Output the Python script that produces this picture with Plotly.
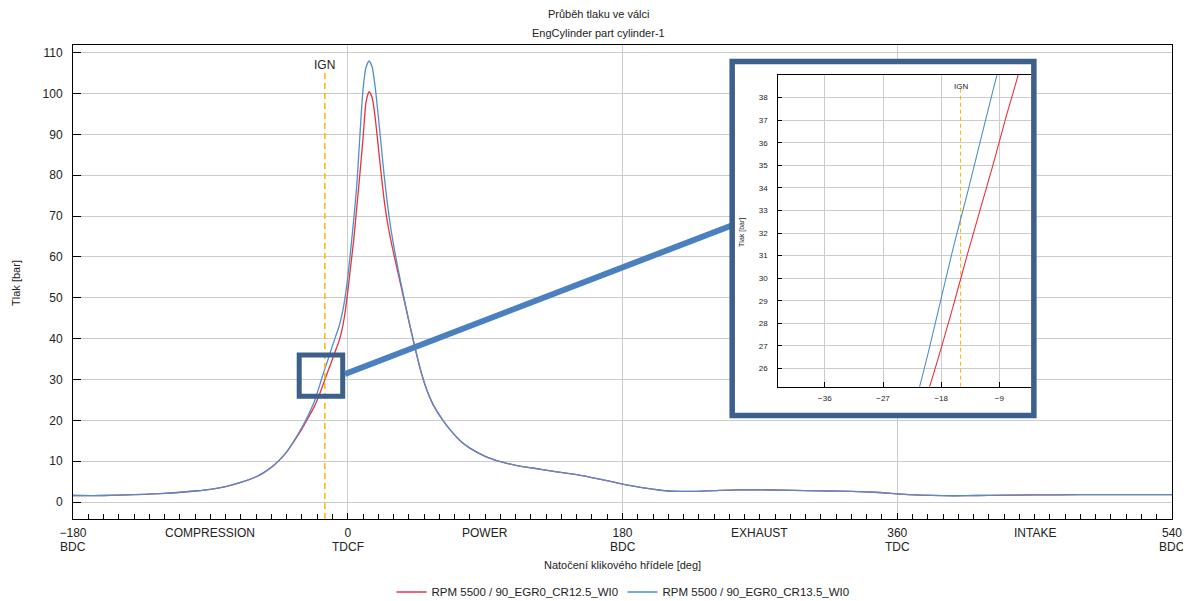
import plotly.graph_objects as go

# ---------------- data ----------------
crank_angle = [
    -180, -160, -140, -120, -100, -90, -80, -70, -60, -55, -50, -45, -40, -35, -30,
    -26, -22, -20, -18, -16, -14, -12, -10, -8, -6, -4, -2, 0,
    2, 4, 6, 8, 10, 12, 14, 16, 18, 20, 22, 24, 26, 28, 30, 33, 36, 40,
    44, 48, 52, 56, 62, 68, 74, 80, 90, 100, 110, 120, 135, 150, 165, 180,
    195, 210, 225, 240, 255, 270, 285, 300, 315, 330, 345, 360, 375, 390, 405, 420, 450, 480, 510, 540,
]
p_cr125 = [
    1.6, 1.6, 1.8, 2.1, 2.7, 3.1, 3.8, 4.8, 6.2, 7.2, 8.5, 10.2, 12.3, 15.0, 17.9,
    20.6, 23.3, 25.0, 26.9, 28.9, 31.0, 33.0, 35.0, 37.1, 39.1, 41.8, 45.8, 51.5,
    58.0, 64.5, 72.5, 80.5, 89.0, 98.0, 100.5, 99.0, 94.0, 87.0, 80.0, 73.5, 68.5, 64.5, 61.0, 56.0, 51.0, 44.3,
    37.8, 31.8, 27.2, 23.8, 20.2, 17.3, 14.9, 13.2, 11.2, 9.9, 9.0, 8.4, 7.5, 6.7, 5.6, 4.4,
    3.4, 2.7, 2.6, 2.8, 3.0, 3.0, 2.9, 2.8, 2.7, 2.6, 2.4, 2.0, 1.7, 1.55, 1.55, 1.65, 1.75, 1.8, 1.8, 1.8,
]
p_cr135 = [
    1.6, 1.6, 1.8, 2.1, 2.7, 3.1, 3.8, 4.8, 6.2, 7.2, 8.5, 10.2, 12.3, 15.1, 18.3,
    21.2, 24.5, 26.7, 29.1, 31.5, 33.7, 36.0, 38.3, 40.5, 42.6, 45.5, 49.5, 55.0,
    62.0, 69.5, 78.0, 90.0, 101.0, 106.5, 108.0, 106.5, 101.5, 94.5, 87.0, 79.5, 73.0, 67.5, 63.0, 57.0, 51.5, 44.5,
    38.0, 32.0, 27.3, 23.8, 20.2, 17.3, 14.9, 13.2, 11.2, 9.9, 9.0, 8.4, 7.5, 6.7, 5.6, 4.4,
    3.4, 2.7, 2.6, 2.8, 3.0, 3.0, 2.9, 2.8, 2.7, 2.6, 2.4, 2.0, 1.7, 1.55, 1.55, 1.65, 1.75, 1.8, 1.8, 1.8,
]
series_names = ["RPM 5500 / 90_EGR0_CR12.5_WI0", "RPM 5500 / 90_EGR0_CR13.5_WI0"]

x_tick_vals = [-180, 0, 180, 360, 540]
x_tick_text = ["\u2212180", "0", "180", "360", "540"]
x_tick_sub = ["BDC", "TDCF", "BDC", "TDC", "BDC"]
phase_pos = [-90, 90, 270, 450]
phase_names = ["COMPRESSION", "POWER", "EXHAUST", "INTAKE"]
y_tick_vals = list(range(0, 111, 10))

inset_x_ticks = [-36, -27, -18, -9]
inset_y_ticks = list(range(26, 39))
IGN_ANGLE = -15

assert len(crank_angle) == len(p_cr125) == len(p_cr135)

# ---------------- style ----------------
FONT = "Liberation Sans, Arial, sans-serif"
TXT = "#222222"
RED = "#e8323c"
BLUE = "#4f8fcf"
GRID = "#cccccc"
FRAME = "#3d5f8c"
CONNECT = "#4a7fc0"
IGN_COL = "#ffb400"

fig = go.Figure()

for vals, col, name in [(p_cr125, RED, series_names[0]), (p_cr135, BLUE, series_names[1])]:
    fig.add_trace(go.Scatter(x=crank_angle, y=vals, mode="lines", name=name,
                             line=dict(color=col, width=1.3, shape="spline", smoothing=0.6),
                             xaxis="x", yaxis="y"))

# cover subplot (white background behind the inset frame)
fig.add_trace(go.Scatter(x=[0], y=[0], mode="markers", marker=dict(opacity=0),
                         showlegend=False, hoverinfo="skip", xaxis="x2", yaxis="y2"))

for vals, col in [(p_cr125, RED), (p_cr135, BLUE)]:
    fig.add_trace(go.Scatter(x=crank_angle, y=vals, mode="lines", showlegend=False,
                             line=dict(color=col, width=1.1, shape="spline", smoothing=0.6),
                             xaxis="x3", yaxis="y3"))

fig.update_layout(
    width=1183, height=593,
    margin=dict(l=65, r=19, t=37, b=82, autoexpand=False),
    paper_bgcolor="white", plot_bgcolor="white",
    font=dict(family=FONT, size=12, color=TXT),
    showlegend=True,
    legend=dict(orientation="h", x=0.500, xanchor="center", y=-0.154, yanchor="middle",
                font=dict(size=11.5, color=TXT), itemwidth=30, entrywidth=186,
                entrywidthmode="pixels", tracegroupgap=0, bgcolor="rgba(0,0,0,0)"),
    xaxis=dict(domain=[0, 1], range=[-180, 540], tickmode="array", tickvals=x_tick_vals,
               ticktext=x_tick_text, ticks="inside", ticklen=6, tickcolor="black",
               showline=True, linecolor="black", linewidth=1, mirror=True,
               showgrid=True, gridcolor=GRID, gridwidth=1, zeroline=False, automargin=False,
               tickfont=dict(size=12, color=TXT), ticklabelstandoff=3,
               minor=dict(tickmode="linear", tick0=-180, dtick=10, ticks="inside",
                          ticklen=5, tickcolor="black", showgrid=False)),
    yaxis=dict(domain=[0, 1], range=[-4.15, 111.9], tickmode="array", tickvals=y_tick_vals,
               ticks="inside", ticklen=8, tickcolor="black",
               showline=True, linecolor="black", linewidth=1, mirror=True,
               showgrid=True, gridcolor=GRID, gridwidth=1, zeroline=False, automargin=False,
               tickfont=dict(size=12, color=TXT), ticklabelstandoff=7),
    xaxis2=dict(domain=[0.5998, 0.8743], range=[0, 1], visible=False, anchor="y2"),
    yaxis2=dict(domain=[0.2184, 0.9652], range=[0, 1], visible=False, anchor="x2"),
    xaxis3=dict(domain=[0.6418, 0.8717], range=[-43.2, -4.1], anchor="y3",
                tickmode="array", tickvals=inset_x_ticks, ticks="inside", ticklen=5,
                tickcolor="black", showline=True, linecolor="black", linewidth=1, mirror=True,
                showgrid=True, gridcolor=GRID, zeroline=False, automargin=False,
                tickfont=dict(size=8, color=TXT), ticklabelstandoff=4),
    yaxis3=dict(domain=[0.2791, 0.9367], range=[25.19, 39.0], anchor="x3",
                tickmode="array", tickvals=inset_y_ticks, ticks="inside", ticklen=4,
                tickcolor="black", showline=True, linecolor="black", linewidth=1,
                showgrid=True, gridcolor=GRID, zeroline=False, automargin=False,
                tickfont=dict(size=8, color=TXT), ticklabelstandoff=8),
)

shapes = [
    dict(type="line", xref="x", yref="y", x0=IGN_ANGLE, x1=IGN_ANGLE, y0=-4.15, y1=105.3,
         line=dict(color=IGN_COL, width=1.5, dash="6px,4px"), layer="above"),
    dict(type="line", xref="x3", yref="y3", x0=IGN_ANGLE, x1=IGN_ANGLE, y0=25.19, y1=38.4,
         line=dict(color=IGN_COL, width=1, dash="4px,3px"), layer="between"),
    dict(type="rect", xref="x", yref="y", x0=-31.8, x1=-3.3, y0=25.9, y1=36.0,
         line=dict(color=FRAME, width=5), layer="above"),
    dict(type="line", xref="paper", yref="paper", x0=0.2475, y0=0.3059, x1=0.6005, y1=0.6203,
         line=dict(color=CONNECT, width=6), layer="above"),
    dict(type="rect", xref="paper", yref="paper", x0=0.5998, x1=0.8743, y0=0.2184, y1=0.9652,
         line=dict(color=FRAME, width=5.5), layer="above"),
]
fig.update_layout(shapes=shapes)

ann = [
    dict(text="Průběh tlaku ve válci", xref="paper", yref="paper", x=0.4786, y=1.0654,
         showarrow=False, font=dict(size=11, color=TXT), xanchor="center", yanchor="middle"),
    dict(text="EngCylinder part cylinder-1", xref="paper", yref="paper", x=0.4786, y=1.0253,
         showarrow=False, font=dict(size=11, color=TXT), xanchor="center", yanchor="middle"),
    dict(text="Tlak [bar]", xref="paper", yref="paper", x=-0.0519, y=0.498, textangle=-90,
         showarrow=False, font=dict(size=11, color=TXT), xanchor="center", yanchor="middle"),
    dict(text="Natočení klikového hřídele [deg]", xref="paper", yref="paper", x=0.5, y=-0.097,
         showarrow=False, font=dict(size=11, color=TXT), xanchor="center", yanchor="middle"),
    dict(text="IGN", xref="x", yref="paper", x=IGN_ANGLE, y=0.9578,
         showarrow=False, font=dict(size=12, color=TXT), xanchor="center", yanchor="middle"),
    dict(text="IGN", xref="x3", yref="paper", x=IGN_ANGLE, y=0.9114,
         showarrow=False, font=dict(size=8, color=TXT), xanchor="center", yanchor="middle"),
    dict(text="Tlak [bar]", xref="paper", yref="paper", x=0.6087, y=0.6055, textangle=-90,
         showarrow=False, font=dict(size=7, color=TXT), xanchor="center", yanchor="middle"),
]
for pos, name in zip(phase_pos, phase_names):
    ann.append(dict(text=name, xref="x", yref="paper", x=pos, y=-0.0295, showarrow=False,
                    font=dict(size=12, color=TXT), xanchor="center", yanchor="middle"))
for pos, sub in zip(x_tick_vals, x_tick_sub):
    ann.append(dict(text=sub, xref="x", yref="paper", x=pos, y=-0.0591, showarrow=False,
                    font=dict(size=12, color=TXT), xanchor="center", yanchor="middle"))
fig.update_layout(annotations=ann)

fig.write_html("out.html")
